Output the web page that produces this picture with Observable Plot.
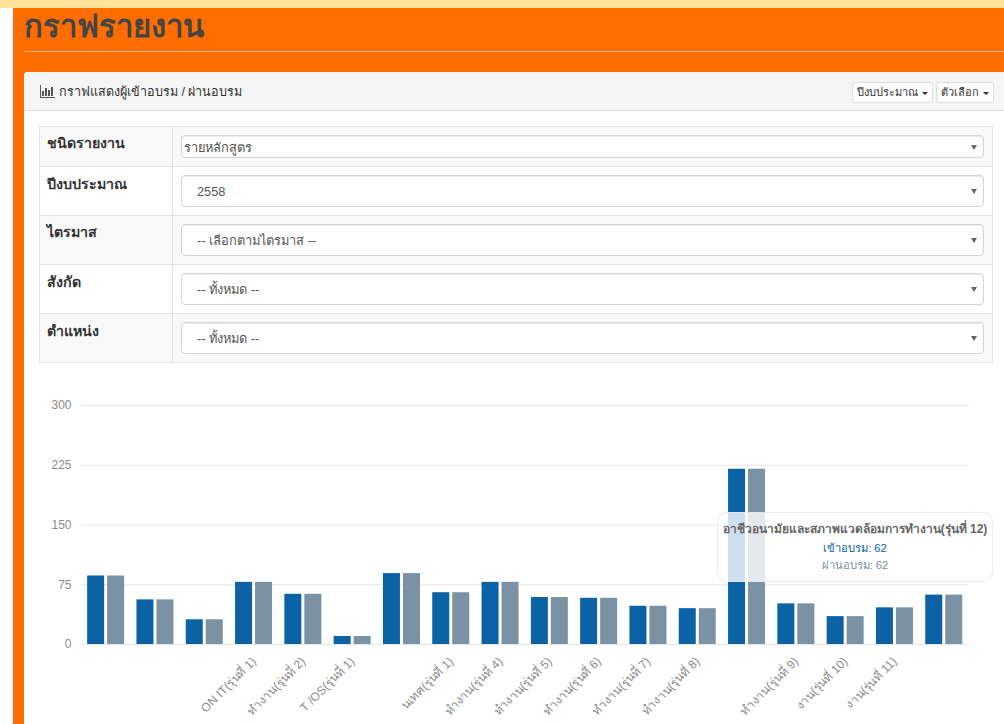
<!DOCTYPE html>
<html lang="th">
<head>
<meta charset="utf-8">
<script src="https://cdn.jsdelivr.net/npm/d3@7"></script>
<script src="https://cdn.jsdelivr.net/npm/@observablehq/plot@0.6"></script>
<style>
html,body{margin:0;padding:0;background:#fff;width:1004px;height:724px;overflow:hidden;font-family:"Liberation Sans","Noto Sans",sans-serif;}
.abs{position:absolute;box-sizing:border-box;}
#band{left:0;top:0;width:1004px;height:8px;background:#fde196;}
#orange{left:13px;top:8px;width:991px;height:716px;background:#ff6c00;}
#title{left:24px;top:4px;font-size:31px;font-weight:bold;line-height:46px;color:#444;white-space:nowrap;}
#hr{left:24px;top:51px;width:980px;height:1px;background:#f9b57e;}
#panel{left:24px;top:72px;width:990px;height:660px;background:#fff;border-radius:4px 0 0 0;}
#head{left:24px;top:72px;width:980px;height:39px;background:#f5f5f5;border-bottom:1px solid #ddd;border-radius:4px 0 0 0;}
#headtext{left:59px;top:82px;font-size:12.6px;line-height:20px;color:#333;white-space:nowrap;}
#icon{left:40px;top:85px;width:15px;height:13px;border-left:1px solid #555;border-bottom:1px solid #555;display:flex;align-items:flex-end;gap:1px;padding-left:1px;padding-bottom:1px;}
#icon i{display:block;width:2px;background:#555;}
.btn{background:#fff;border:1px solid #ddd;border-radius:3px;font-size:11px;color:#333;text-align:center;line-height:19px;height:21px;top:82px;white-space:nowrap;}
.btn::after{content:"";display:inline-block;margin-left:4px;vertical-align:middle;border-top:3px solid #333;border-left:3px solid transparent;border-right:3px solid transparent;}
#table{left:39px;top:126px;width:954px;height:237px;border:1px solid #e4e4e4;}
.row{left:39px;width:954px;border-bottom:1px solid #e4e4e4;}
.row.alt{background:#f9f9f9;}
.lab{left:47px;font-size:14.2px;font-weight:bold;color:#333;line-height:18px;white-space:nowrap;}
.sel{left:181px;width:803px;background:#fff;border:1px solid #d4d4d4;border-radius:4px;box-shadow:inset 0 1px 1px rgba(0,0,0,.075);color:#555;font-size:12.8px;white-space:nowrap;}
.sel span{position:absolute;top:50%;transform:translateY(-50%);}
.sel::after{content:"";position:absolute;right:6px;top:50%;margin-top:-2px;border-top:5px solid #666;border-left:3px solid transparent;border-right:3px solid transparent;}
#vsplit{left:172px;top:126px;width:1px;height:237px;background:#e4e4e4;}
#chart{left:24px;top:380px;width:980px;height:344px;}
#chart svg{display:block;background:transparent;}
#hover{left:717px;top:512px;width:276px;height:70px;background:rgba(255,255,255,.8);border:1px solid rgba(230,230,230,.8);border-radius:10px;text-align:center;font-size:12px;color:#666;font-family:"Liberation Sans",sans-serif;}
#hover div{position:absolute;left:0;right:0;line-height:16px;white-space:nowrap;}
</style>
</head>
<body>
<div class="abs" id="band"></div>
<div class="abs" id="orange"></div>
<div class="abs" id="title">กราฟรายงาน</div>
<div class="abs" id="hr"></div>
<div class="abs" id="panel"></div>
<div class="abs" id="head"></div>
<div class="abs" id="icon"><i style="height:5px"></i><i style="height:8px"></i><i style="height:6px"></i><i style="height:9px"></i></div>
<div class="abs" id="headtext">กราฟแสดงผู้เข้าอบรม / ผ่านอบรม</div>
<div class="abs btn" style="left:852px;width:81px">ปีงบประมาณ</div>
<div class="abs btn" style="left:936px;width:58px">ตัวเลือก</div>
<div id="filters"></div>
<div class="abs" id="chart"></div>
<div class="abs" id="hover">
  <div style="top:8px;font-weight:bold" id="hTitle"></div>
  <div style="top:27px;color:#0b62a4;font-size:11.2px" id="hA"></div>
  <div style="top:44px;color:#7a92a3;font-size:11.2px" id="hB"></div>
</div>
<script>
// Filter form
const filterLabels = ["ชนิดรายงาน", "ปีงบประมาณ", "ไตรมาส", "สังกัด", "ตำแหน่ง"];
const filterValues = ["รายหลักสูตร", "2558", "-- เลือกตามไตรมาส --", "-- ทั้งหมด --", "-- ทั้งหมด --"];

// Chart data
const seriesNames = ["เข้าอบรม", "ผ่านอบรม"];
const tickLabels = [
  "", "", "",
  "ON IT(รุ่นที่ 1)",
  "ทำงาน(รุ่นที่ 2)",
  "T /OS(รุ่นที่ 1)",
  "",
  "นเทศ(รุ่นที่ 1)",
  "ทำงาน(รุ่นที่ 4)",
  "ทำงาน(รุ่นที่ 5)",
  "ทำงาน(รุ่นที่ 6)",
  "ทำงาน(รุ่นที่ 7)",
  "ทำงาน(รุ่นที่ 8)",
  "",
  "ทำงาน(รุ่นที่ 9)",
  "งาน(รุ่นที่ 10)",
  "งาน(รุ่นที่ 11)",
  ""
];
const enrolled = [86, 56, 31, 78, 63, 10, 89, 65, 78, 59, 58, 48, 45, 220, 51, 35, 46, 62];
const passed   = [86, 56, 31, 78, 63, 10, 89, 65, 78, 59, 58, 48, 45, 220, 51, 35, 46, 62];
const yTicks = [0, 75, 150, 225, 300];
const hoverTitle = "อาชีวอนามัยและสภาพแวดล้อมการทำงาน(รุ่นที่ 12)";
const hoverIndex = 17;

// Build form rows
const rowTops = [127, 167, 216, 265, 314];
const rowHeights = [40, 49, 49, 49, 49];
const selTops = [135, 175, 224, 273, 322];
const selHeights = [23, 32, 32, 32, 32];
const labTops = [134, 175, 223, 273, 322];
const filters = document.getElementById("filters");
let html = '';
filterLabels.forEach((t, i) => {
  html += `<div class="abs row${i % 2 === 0 ? " alt" : ""}" style="top:${rowTops[i]}px;height:${rowHeights[i]}px"></div>`;
});
html += '<div class="abs" id="table"></div><div class="abs" id="vsplit"></div>';
filterLabels.forEach((t, i) => {
  html += `<div class="abs lab" style="top:${labTops[i]}px">${t}</div>`;
  html += `<div class="abs sel" style="top:${selTops[i]}px;height:${selHeights[i]}px"><span style="left:${i === 0 ? 2 : 15}px">${filterValues[i]}</span></div>`;
});
filters.innerHTML = html;

document.getElementById("hTitle").textContent = hoverTitle;
document.getElementById("hA").textContent = `${seriesNames[0]}: ${enrolled[hoverIndex]}`;
document.getElementById("hB").textContent = `${seriesNames[1]}: ${passed[hoverIndex]}`;

// Chart
const index = d3.range(enrolled.length);
const rowsA = index.map(i => ({i, series: seriesNames[0], value: enrolled[i]}));
const rowsB = index.map(i => ({i, series: seriesNames[1], value: passed[i]}));

const chart = Plot.plot({
  width: 980,
  height: 344,
  marginLeft: 57,
  marginRight: 35.6,
  marginTop: 25,
  marginBottom: 80,
  style: {background: "transparent", fontFamily: '"Liberation Sans", sans-serif', fontSize: "12px"},
  x: {type: "band", domain: index, padding: 0, round: false, axis: null},
  y: {domain: [0, 300], axis: null},
  color: {domain: seriesNames, range: ["#0b62a4", "#7a92a3"]},
  marks: [
    Plot.ruleY(yTicks, {stroke: "#e6e6e6", strokeWidth: 1}),
    Plot.barY(rowsA, {x: "i", y: "value", fill: "series", insetLeft: 6.15, insetRight: 26.15}),
    Plot.barY(rowsB, {x: "i", y: "value", fill: "series", insetLeft: 26.15, insetRight: 6.15}),
    Plot.axisY({ticks: yTicks, tickSize: 0, tickPadding: 10, label: null, fill: "#8c8c8c", fontSize: 12}),
    Plot.axisX({tickSize: 0, tickPadding: 15, tickRotate: -45, label: null, fill: "#8c8c8c", fontSize: 12, tickFormat: i => tickLabels[i]})
  ]
});
document.getElementById("chart").appendChild(chart);
</script>
</body>
</html>
